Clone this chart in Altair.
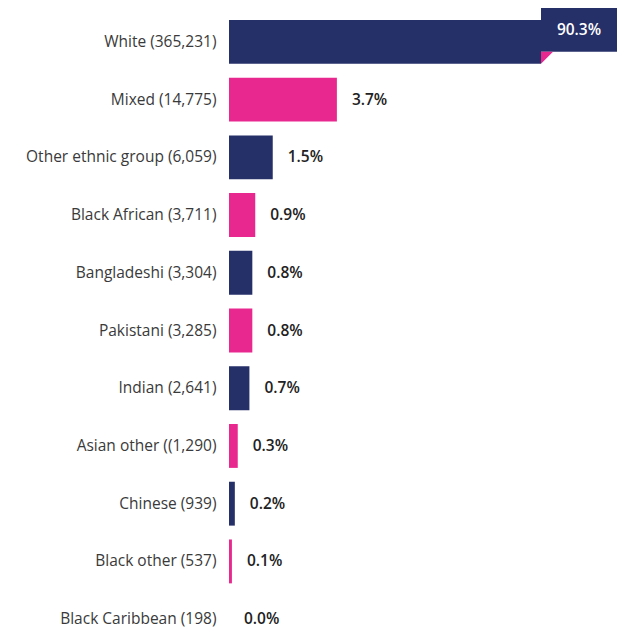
import altair as alt
import pandas as pd

categories = [
    "White (365,231)",
    "Mixed (14,775)",
    "Other ethnic group (6,059)",
    "Black African (3,711)",
    "Bangladeshi (3,304)",
    "Pakistani (3,285)",
    "Indian (2,641)",
    "Asian other ((1,290)",
    "Chinese (939)",
    "Black other (537)",
    "Black Caribbean (198)",
]
percent = [90.3, 3.7, 1.5, 0.9, 0.8, 0.8, 0.7, 0.3, 0.2, 0.1, 0.0]
series = ["a", "b", "a", "b", "a", "b", "a", "b", "a", "b", "a"]

NAVY = "#252f68"
PINK = "#e8288f"

df = pd.DataFrame({
    "cat": categories,
    "pct": percent,
    "grp": series,
    "label": [f"{p:.1f}%" for p in percent],
})

FONT = "Open Sans"

y = alt.Y(
    "cat:N",
    sort=categories,
    scale=alt.Scale(paddingInner=0.24, paddingOuter=0.12, range=[0, 635]),
    axis=alt.Axis(
        title=None, domain=False, ticks=False, labelPadding=13,
        labelFont=FONT, labelFontSize=15.5, labelColor="#3a3a3a",
        labelFontWeight="normal", labelLimit=300,
    ),
)
xscale = alt.Scale(domain=[0, 10.7], clamp=True, nice=False, zero=True)
x = alt.X("pct:Q", scale=xscale, axis=None)

base = alt.Chart(df)

bars = base.mark_bar().encode(
    y=y,
    x=x,
    color=alt.Color("grp:N", scale=alt.Scale(domain=["a", "b"], range=[NAVY, PINK]), legend=None),
)

others = base.transform_filter(alt.datum.pct < 50)
labels = others.mark_text(
    align="left", baseline="middle", dx=15, font=FONT, fontSize=15.5,
    fontWeight=600, color="#222222",
).encode(y=alt.Y("cat:N", sort=categories), x=x, text="label:N")

top = base.transform_filter(alt.datum.pct >= 50)
box = top.mark_bar(
    color=NAVY, x2Offset=76, yOffset=-12, y2Offset=-12,
).encode(y=alt.Y("cat:N", sort=categories), x=x, x2="pct:Q")
fold = top.mark_point(
    shape="M-1,-1 L1,-1 L-1,1 Z", size=144, filled=True, opacity=1,
    color=PINK, strokeWidth=0, xOffset=6, yOffset=16,
).encode(y=alt.Y("cat:N", sort=categories), x=x)
toplabel = top.mark_text(
    align="center", baseline="middle", dx=38, dy=-12, font=FONT,
    fontSize=15.5, fontWeight=600, color="white",
).encode(y=alt.Y("cat:N", sort=categories), x=x, text="label:N")

chart = alt.layer(bars, labels, box, fold, toplabel).properties(
    width=312, height=616,
    autosize=alt.AutoSizeParams(type="none"),
    padding={"left": 221, "top": 5, "right": 76, "bottom": 0},
).configure_view(stroke=None)

chart.save("out.html", embed_options={"renderer": "svg", "actions": False})
